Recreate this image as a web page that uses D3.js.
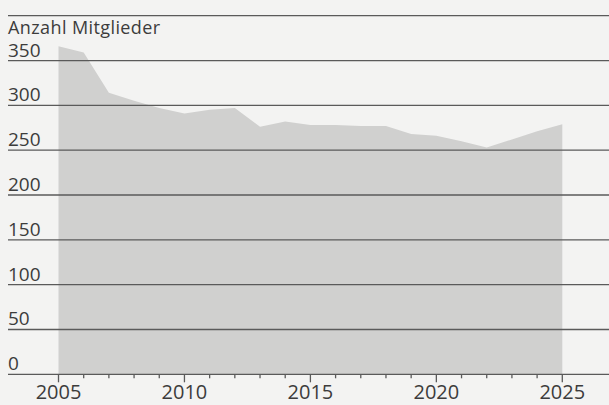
<!DOCTYPE html>
<html>
<head>
<meta charset="utf-8">
<script src="https://cdn.jsdelivr.net/npm/d3@7"></script>
<style>
  html, body { margin: 0; padding: 0; background: #f3f3f2; }
  #plot { width: 609px; height: 405px; }
  text { font-family: "Open Sans", "Noto Sans", sans-serif; fill: #3c3c3c; }
</style>
</head>
<body>
<div id="plot"></div>
<script>
// members per year
const years = [2005, 2006, 2007, 2008, 2009, 2010, 2011, 2012, 2013, 2014, 2015,
               2016, 2017, 2018, 2019, 2020, 2021, 2022, 2023, 2024, 2025];
const members = [366, 359, 314, 305, 297, 291, 295, 297, 276, 282, 278,
                 278, 277, 277, 268, 266, 260, 253, 262, 271, 279];
const yTicks = [0, 50, 100, 150, 200, 250, 300, 350, 400];
const xTicks = [2005, 2010, 2015, 2020, 2025];
const yTitle = "Anzahl Mitglieder";

const W = 609, H = 405;

const svg = d3.select("#plot")
    .append("svg")
    .attr("width", W)
    .attr("height", H);

const x = d3.scaleLinear()
    .domain([2005, 2025])
    .range([58.5, 562.3]);

const y = d3.scaleLinear()
    .domain([0, 400])
    .range([374.3, 15.7]);

const data = years.map((yr, i) => ({year: yr, value: members[i]}));

// area
svg.append("path")
    .datum(data)
    .attr("fill", "#d0d0cf")
    .attr("d", d3.area()
        .x(d => x(d.year))
        .y0(y(0))
        .y1(d => y(d.value)));

// gridlines
svg.append("g")
    .selectAll("line")
    .data(yTicks)
    .enter()
    .append("line")
    .attr("x1", 8)
    .attr("x2", W)
    .attr("y1", d => y(d))
    .attr("y2", d => y(d))
    .attr("stroke", "#5a5a5a")
    .attr("stroke-width", 1.3);

// y labels
svg.append("g")
    .selectAll("text")
    .data(yTicks.filter(d => d < 400))
    .enter()
    .append("text")
    .attr("x", 8)
    .attr("y", d => y(d) - 4)
    .style("font-size", "19px")
    .text(d => d);

svg.append("text")
    .attr("x", 8)
    .attr("y", 34)
    .style("font-size", "18px")
    .style("letter-spacing", "0.4px")
    .text(yTitle);

// x axis ticks
svg.append("g")
    .selectAll("line")
    .data(d3.range(2005, 2026))
    .enter()
    .append("line")
    .attr("x1", d => x(d))
    .attr("x2", d => x(d))
    .attr("y1", y(0))
    .attr("y2", d => y(0) + (d % 5 === 0 ? 8 : 4))
    .attr("stroke", "#5a5a5a")
    .attr("stroke-width", 1.3);

svg.append("g")
    .selectAll("text")
    .data(xTicks)
    .enter()
    .append("text")
    .attr("x", d => x(d))
    .attr("y", 399)
    .attr("text-anchor", "middle")
    .style("font-size", "20px")
    .text(d => d);
</script>
</body>
</html>
